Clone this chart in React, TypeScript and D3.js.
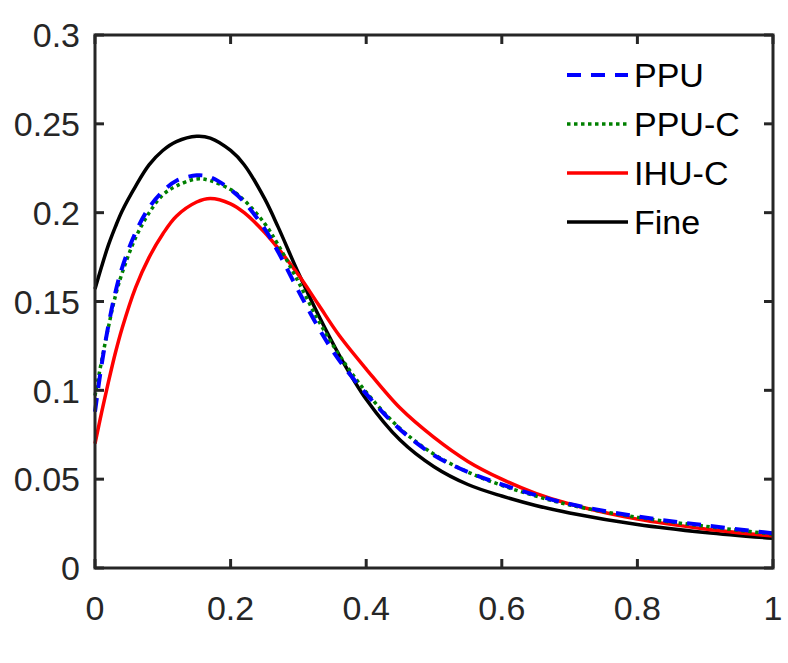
import React, { useEffect, useRef } from "react";
import * as d3 from "d3";

// Sample positions along the horizontal axis
const xs = [0, 0.01, 0.02, 0.03, 0.04, 0.06, 0.08, 0.1, 0.12, 0.15, 0.17, 0.2, 0.22, 0.25, 0.27, 0.3, 0.33, 0.36, 0.4, 0.45, 0.5, 0.55, 0.6, 0.65, 0.7, 0.8, 0.9, 1.0];

const ppu = [0.088, 0.115, 0.137, 0.155, 0.169, 0.189, 0.203, 0.212, 0.218, 0.221, 0.220, 0.213, 0.206, 0.191, 0.178, 0.156, 0.135, 0.117, 0.098, 0.078, 0.0635, 0.054, 0.047, 0.041, 0.036, 0.029, 0.024, 0.0195];
const ppuC = [0.097, 0.117, 0.136, 0.153, 0.166, 0.186, 0.200, 0.210, 0.215, 0.219, 0.218, 0.213, 0.207, 0.194, 0.182, 0.161, 0.139, 0.120, 0.099, 0.0785, 0.064, 0.054, 0.0465, 0.0405, 0.0355, 0.0285, 0.0235, 0.019];
const ihuC = [0.070, 0.088, 0.105, 0.121, 0.135, 0.158, 0.175, 0.188, 0.198, 0.206, 0.208, 0.205, 0.200, 0.189, 0.180, 0.165, 0.148, 0.131, 0.112, 0.090, 0.0735, 0.060, 0.050, 0.042, 0.036, 0.0275, 0.022, 0.018];
const fine = [0.157, 0.170, 0.182, 0.192, 0.201, 0.215, 0.227, 0.235, 0.240, 0.243, 0.242, 0.235, 0.227, 0.208, 0.192, 0.166, 0.142, 0.120, 0.095, 0.072, 0.057, 0.047, 0.0405, 0.0352, 0.031, 0.0245, 0.020, 0.0167];

const xTicks = [0, 0.2, 0.4, 0.6, 0.8, 1];
const yTicks = [0, 0.05, 0.1, 0.15, 0.2, 0.25, 0.3];

const seriesNames = ["PPU", "PPU-C", "IHU-C", "Fine"];
const seriesValues = [ppu, ppuC, ihuC, fine];
const seriesColors = ["#0000ff", "#008000", "#ff0000", "#000000"];
const seriesDash = ["14,10", "3.5,3.5", null, null];

const W = 788;
const H = 663;
const M = { left: 95, right: 773, top: 35, bottom: 568 };
const AXIS = "#262626";
const FONT = "'Liberation Sans', Arial, Helvetica, sans-serif";

export default function App() {
  const ref = useRef<SVGSVGElement | null>(null);

  useEffect(() => {
    const svg = d3.select(ref.current);
    svg.selectAll("*").remove();

    const x = d3.scaleLinear().domain([0, 1]).range([M.left, M.right]);
    const y = d3.scaleLinear().domain([0, 0.3]).range([M.bottom, M.top]);

    const plot = svg.append("g");
    const line = d3
      .line<number>()
      .x((_, i) => x(xs[i]))
      .y((d) => y(d))
      .curve(d3.curveCatmullRom.alpha(0.5));

    // Draw order: Fine first, then IHU-C, PPU-C, PPU on top
    [3, 2, 1, 0].forEach((k) => {
      plot
        .append("path")
        .datum(seriesValues[k])
        .attr("d", line)
        .attr("fill", "none")
        .attr("stroke", seriesColors[k])
        .attr("stroke-width", k === 0 ? 4 : 3.5)
        .attr("stroke-dasharray", seriesDash[k] ?? null);
    });

    // Axes box with inward ticks on all four sides
    const tl = 9;
    const axes = svg.append("g").attr("stroke", AXIS).attr("stroke-width", 3);
    axes
      .append("rect")
      .attr("x", M.left)
      .attr("y", M.top)
      .attr("width", M.right - M.left)
      .attr("height", M.bottom - M.top)
      .attr("fill", "none");
    xTicks.forEach((t) => {
      axes.append("line").attr("x1", x(t)).attr("x2", x(t)).attr("y1", M.bottom).attr("y2", M.bottom - tl);
      axes.append("line").attr("x1", x(t)).attr("x2", x(t)).attr("y1", M.top).attr("y2", M.top + tl);
    });
    yTicks.forEach((t) => {
      axes.append("line").attr("x1", M.left).attr("x2", M.left + tl).attr("y1", y(t)).attr("y2", y(t));
      axes.append("line").attr("x1", M.right).attr("x2", M.right - tl).attr("y1", y(t)).attr("y2", y(t));
    });

    const fmt = (v: number) => String(+v.toFixed(2));
    const labels = svg.append("g").attr("fill", AXIS).attr("font-family", FONT).attr("font-size", 34);
    xTicks.forEach((t) => {
      labels
        .append("text")
        .attr("x", x(t))
        .attr("y", 620)
        .attr("text-anchor", "middle")
        .text(fmt(t));
    });
    yTicks.forEach((t) => {
      labels
        .append("text")
        .attr("x", 80)
        .attr("y", y(t))
        .attr("dy", "0.36em")
        .attr("text-anchor", "end")
        .text(fmt(t));
    });

    // Legend
    const lg = svg.append("g").attr("font-family", FONT).attr("font-size", 34);
    seriesNames.forEach((name, k) => {
      const cy = 75 + k * 49;
      lg.append("line")
        .attr("x1", 567)
        .attr("x2", 628)
        .attr("y1", cy)
        .attr("y2", cy)
        .attr("stroke", seriesColors[k])
        .attr("stroke-width", k === 0 ? 4 : 3.5)
        .attr("stroke-dasharray", seriesDash[k] ?? null);
      lg.append("text")
        .attr("x", 634)
        .attr("y", cy)
        .attr("dy", "0.36em")
        .attr("fill", "#000")
        .text(name);
    });
  }, []);

  return (
    <svg
      ref={ref}
      width={W}
      height={H}
      style={{ position: "absolute", left: 0, top: 0, background: "#fff", display: "block" }}
    />
  );
}
